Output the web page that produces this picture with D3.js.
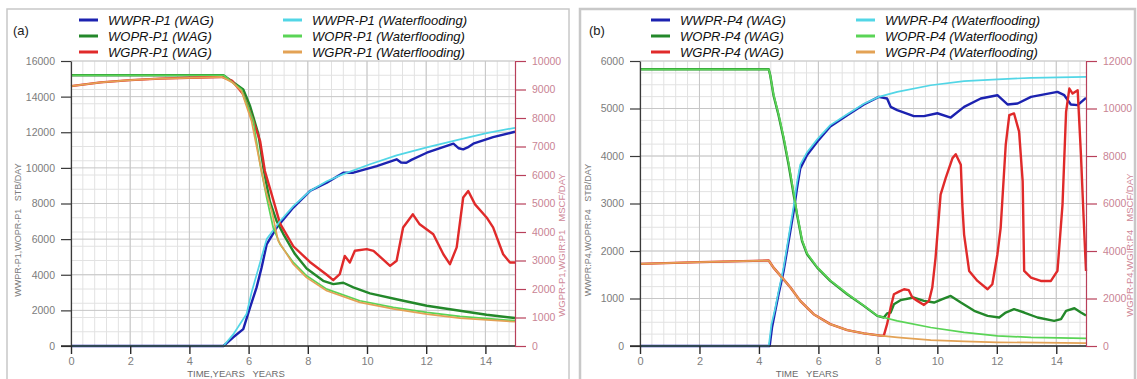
<!DOCTYPE html>
<html>
<head>
<meta charset="utf-8">
<script src="https://cdn.jsdelivr.net/npm/d3@7"></script>
<style>
body { margin: 0; background: #fff; }
text { font-family: "Liberation Sans", Arial, sans-serif; }
</style>
</head>
<body>
<svg width="1137" height="379"></svg>
<script>
// ---------- data (time in years, rates) ----------
const xTicks = [0, 2, 4, 6, 8, 10, 12, 14];
const leftTicksA = [0, 2000, 4000, 6000, 8000, 10000, 12000, 14000, 16000];
const rightTicksA = [0, 1000, 2000, 3000, 4000, 5000, 6000, 7000, 8000, 9000, 10000];
const leftTicksB = [0, 1000, 2000, 3000, 4000, 5000, 6000];
const rightTicksB = [0, 2000, 4000, 6000, 8000, 10000, 12000];

const legendA = ["WWPR-P1 (WAG)", "WOPR-P1 (WAG)", "WGPR-P1 (WAG)",
                 "WWPR-P1 (Waterflooding)", "WOPR-P1 (Waterflooding)", "WGPR-P1 (Waterflooding)"];
const legendB = ["WWPR-P4 (WAG)", "WOPR-P4 (WAG)", "WGPR-P4 (WAG)",
                 "WWPR-P4 (Waterflooding)", "WOPR-P4 (Waterflooding)", "WGPR-P4 (Waterflooding)"];

// panel (a), well P1
const wwprP1Wag = [[0,0],[5.15,0],[5.48,490],[5.82,950],[6.05,2170],[6.27,3290],[6.44,4410],[6.61,5700],[6.95,6650],[7.51,7770],[8.07,8700],[8.64,9170],[9.2,9730],[9.54,9730],[10.33,10100],[11.0,10480],[11.15,10300],[11.33,10290],[11.5,10450],[12.02,10850],[12.92,11360],[13.1,11100],[13.25,11040],[13.4,11150],[13.59,11360],[14.26,11730],[15,12030]];
const wwprP1Wf = [[0,0],[5.15,0],[5.48,650],[5.93,1800],[6.1,3000],[6.27,4000],[6.44,5000],[6.61,6000],[7.06,7000],[7.51,7850],[8.07,8700],[8.64,9250],[9.2,9650],[10.1,10200],[11.0,10700],[12.02,11150],[13.14,11600],[14.04,11950],[15,12250]];
const woprP1Wag = [[0,15200],[5.15,15200],[5.82,14400],[6.05,13470],[6.33,11900],[6.5,10000],[6.72,8100],[6.95,7000],[7.17,6300],[7.55,5200],[7.96,4350],[8.52,3660],[8.86,3475],[9.2,3550],[9.54,3290],[10.1,2950],[11.11,2580],[12.02,2260],[13.14,1980],[14.04,1755],[15,1570]];
const woprP1Wf = [[0,15200],[5.15,15200],[5.76,14400],[6.16,12630],[6.39,10200],[6.61,8330],[6.83,6650],[7.06,5716],[7.51,4690],[7.96,3940],[8.64,3195],[9.76,2540],[10.89,2170],[12.02,1890],[13.14,1665],[15,1420]];
const wgprP1Wag = [[0,9120],[1,9250],[2,9330],[3,9380],[4,9410],[5.1,9440],[5.45,9300],[5.82,8830],[6.16,7890],[6.39,7190],[6.55,6140],[6.78,5320],[7.06,4300],[7.51,3500],[8.07,2950],[8.64,2500],[8.86,2310],[9.08,2520],[9.25,3160],[9.42,2930],[9.59,3340],[9.99,3400],[10.22,3340],[10.78,2810],[11.0,2990],[11.22,4160],[11.55,4620],[11.78,4270],[12.24,3920],[12.58,3220],[12.8,2870],[13.03,3460],[13.25,5210],[13.42,5440],[13.65,4970],[14.04,4510],[14.26,4160],[14.6,3220],[14.83,2930],[15,2930]];
const wgprP1Wf = [[0,9120],[1,9250],[2,9330],[3,9380],[4,9410],[5.1,9440],[5.45,9250],[5.76,8940],[6.1,7890],[6.39,6370],[6.55,5560],[6.78,4740],[7.0,3690],[7.51,2870],[7.96,2400],[8.64,1940],[9.76,1530],[10.89,1300],[12.02,1120],[13.14,980],[15,850]];

// panel (b), well P4
const wwprP4Wag = [[0,0],[4.36,0],[4.44,390],[4.55,740],[4.66,1090],[4.83,1580],[5.0,2210],[5.17,2840],[5.28,3320],[5.39,3740],[5.62,4020],[5.96,4300],[6.4,4620],[6.97,4860],[7.53,5085],[8.03,5245],[8.31,5210],[8.43,5035],[8.65,4965],[9.21,4840],[9.55,4840],[10.0,4900],[10.45,4810],[10.9,5035],[11.46,5210],[12.02,5280],[12.36,5085],[12.7,5105],[13.15,5245],[14.04,5350],[14.27,5280],[14.49,5085],[14.72,5070],[15,5225]];
const wwprP4Wf = [[0,0],[4.33,0],[4.42,450],[4.55,800],[4.66,1150],[4.83,1650],[5.0,2300],[5.17,2950],[5.28,3450],[5.39,3820],[5.62,4080],[5.96,4350],[6.4,4650],[6.97,4880],[7.53,5100],[8.03,5245],[8.65,5350],[9.78,5490],[10.9,5575],[12.02,5615],[13.15,5645],[15,5665]];
const woprP4Wag = [[0,5825],[4.33,5825],[4.38,5700],[4.49,5280],[4.66,4860],[4.83,4370],[5.0,3810],[5.17,3180],[5.28,2770],[5.45,2210],[5.62,1930],[5.96,1650],[6.4,1370],[6.97,1090],[7.53,845],[7.98,635],[8.2,600],[8.31,685],[8.43,705],[8.54,880],[8.76,965],[9.21,1020],[9.55,950],[9.89,915],[10.17,985],[10.45,1055],[10.79,915],[11.24,740],[11.69,635],[12.08,600],[12.3,705],[12.58,775],[12.92,705],[13.37,600],[13.93,530],[14.16,565],[14.33,740],[14.61,795],[14.83,705],[15,640]];
const woprP4Wf = [[0,5825],[4.33,5825],[4.38,5700],[4.49,5300],[4.66,4880],[4.83,4400],[5.0,3850],[5.17,3220],[5.28,2800],[5.45,2230],[5.62,1950],[5.96,1660],[6.4,1380],[6.97,1100],[7.53,850],[7.98,640],[8.2,600],[8.65,530],[9.78,390],[10.9,285],[12.02,215],[13.15,180],[15,160]];
const wgprP4Wag = [[0,3460],[2,3530],[4.33,3600],[4.49,3300],[4.78,2880],[5.06,2460],[5.39,1900],[5.84,1340],[6.4,920],[6.97,670],[7.53,530],[8.09,435],[8.2,435],[8.31,920],[8.43,1620],[8.54,2180],[8.71,2290],[8.88,2390],[9.04,2350],[9.16,2040],[9.33,1900],[9.55,1730],[9.72,1900],[9.83,2460],[9.94,3715],[10.11,6370],[10.28,7070],[10.51,7910],[10.62,8075],[10.79,7630],[10.84,5950],[10.9,4690],[11.07,3160],[11.35,2740],[11.69,2390],[11.85,2600],[12.02,3855],[12.13,4970],[12.3,8465],[12.42,9720],[12.58,9790],[12.75,9025],[12.87,6930],[12.92,3160],[13.15,2880],[13.48,2740],[13.82,2740],[14.04,3160],[14.21,5950],[14.33,9860],[14.44,10840],[14.55,10630],[14.72,10770],[14.83,8050],[14.92,5390],[15,3160]];
const wgprP4Wf = [[0,3460],[2,3530],[4.33,3600],[4.49,3300],[4.78,2880],[5.06,2460],[5.39,1900],[5.84,1340],[6.4,920],[6.97,670],[7.53,530],[8.09,435],[8.65,365],[9.78,250],[10.9,195],[12.02,155],[15,125]];

// ---------- styles ----------
const colors = ["#1c22b0", "#23882a", "#e02a2a", "#52d6e6", "#5ad456", "#e3a255"];
const axisRed = "#b8405a";

const svg = d3.select("svg");

svg.append("rect").attr("width", 1137).attr("height", 379).attr("fill", "#fff");

function drawPanel(p) {
    const g = svg.append("g");

    //panel frame
    g.append("rect")
        .attr("x", p.frame[0]).attr("y", p.frame[1])
        .attr("width", p.frame[2]).attr("height", p.frame[3])
        .attr("fill", "none").attr("stroke", "#c8c8c8").attr("stroke-width", p.frameW);

    const x = d3.scaleLinear().domain([0, 15]).range(p.xr);
    const yL = d3.scaleLinear().domain([0, p.leftMax]).range([346, 61]);
    const yR = d3.scaleLinear().domain([0, p.rightMax]).range([346, 61]);

    //grid
    const grid = g.append("g");
    d3.range(0, 15.001, 0.4).forEach(t => {
        grid.append("line")
            .attr("x1", x(t)).attr("x2", x(t)).attr("y1", 61).attr("y2", 346)
            .attr("stroke", "#e2e2e2").attr("stroke-width", 1);
    });
    d3.range(0, p.leftMax + 1, p.hGrid).forEach(v => {
        grid.append("line")
            .attr("x1", p.xr[0]).attr("x2", p.xr[1]).attr("y1", yL(v)).attr("y2", yL(v))
            .attr("stroke", "#e2e2e2").attr("stroke-width", 1);
    });
    xTicks.forEach(t => {
        grid.append("line")
            .attr("x1", x(t)).attr("x2", x(t)).attr("y1", 61).attr("y2", 346)
            .attr("stroke", "#c6c6c6").attr("stroke-width", 1);
    });
    p.leftTicks.forEach(v => {
        grid.append("line")
            .attr("x1", p.xr[0]).attr("x2", p.xr[1]).attr("y1", yL(v)).attr("y2", yL(v))
            .attr("stroke", "#c6c6c6").attr("stroke-width", 1);
    });

    //series: WAG first (wider), waterflooding on top (thinner)
    const line = d3.line().x(d => x(d[0]));
    p.series.forEach((s, i) => {
        const y = s.right ? yR : yL;
        g.append("path")
            .datum(s.data)
            .attr("d", line.y(d => y(d[1])))
            .attr("fill", "none")
            .attr("stroke", colors[i])
            .attr("stroke-width", i < 3 ? 2.4 : 1.7)
            .attr("stroke-linejoin", "round");
    });

    const fmt = d3.format("d");

    //left axis
    const left = g.append("g").attr("transform", `translate(${p.xr[0]},0)`);
    left.call(d3.axisLeft(yL).tickValues(d3.range(0, p.leftMax + 1, p.leftMinor))
        .tickSize(5).tickSizeOuter(0).tickFormat(""));
    left.call(d3.axisLeft(yL).tickValues(p.leftTicks).tickFormat(fmt)
        .tickSize(10).tickSizeOuter(0).tickPadding(6));
    left.selectAll("line, path").attr("stroke", "#3a3a3a").attr("stroke-width", 1.2);
    left.selectAll("text").attr("fill", "#7c7c7c").style("font-size", "10.5px");

    //right axis
    const right = g.append("g").attr("transform", `translate(${p.xr[1]},0)`);
    right.call(d3.axisRight(yR).tickValues(d3.range(0, p.rightMax + 1, p.rightMinor))
        .tickSize(5).tickSizeOuter(0).tickFormat(""));
    right.call(d3.axisRight(yR).tickValues(p.rightTicks).tickFormat(fmt)
        .tickSize(11).tickSizeOuter(0).tickPadding(6));
    right.selectAll("line, path").attr("stroke", axisRed).attr("stroke-width", 1.2);
    right.selectAll("text").attr("fill", "#c98494").style("font-size", "10.5px");

    //bottom axis
    const bottom = g.append("g").attr("transform", "translate(0,346)");
    bottom.call(d3.axisBottom(x).tickValues(d3.range(0, 15.001, 0.4)).tickSize(4).tickSizeOuter(0).tickFormat(""));
    bottom.call(d3.axisBottom(x).tickValues(xTicks).tickFormat(fmt)
        .tickSize(8).tickSizeOuter(0).tickPadding(3));
    bottom.select(".domain").attr("d", `M${p.xr[0] - 10},0H${p.xr[1]}`);
    bottom.selectAll("line, path").attr("stroke", "#2a2a2a").attr("stroke-width", 1.4);
    bottom.selectAll("text").attr("fill", "#808080").style("font-size", "11px");

    //axis titles
    g.append("text")
        .attr("transform", `translate(${p.leftTitleX},230) rotate(-90)`)
        .attr("text-anchor", "middle").attr("fill", "#7c7c7c").style("font-size", "9px")
        .attr("xml:space", "preserve")
        .text(p.leftTitle);
    g.append("text")
        .attr("transform", `translate(${p.rightTitleX},245) rotate(-90)`)
        .attr("text-anchor", "middle").attr("fill", "#cf8898").style("font-size", "9.5px")
        .attr("xml:space", "preserve")
        .text(p.rightTitle);
    g.append("text")
        .attr("x", p.xTitleX).attr("y", 377)
        .attr("text-anchor", "middle").attr("fill", "#6a6a6a").style("font-size", "9.5px")
        .attr("xml:space", "preserve")
        .text(p.xTitle);

    //panel tag
    g.append("text")
        .attr("x", p.tagX).attr("y", 35)
        .attr("fill", "#222").style("font-size", "13px")
        .text(p.tag);

    //legend
    p.legend.forEach((name, i) => {
        const col = Math.floor(i / 3);
        const row = i % 3;
        const lx = p.legendX[col];
        const ly = 20 + row * 16;
        g.append("line")
            .attr("x1", lx).attr("x2", lx + 19).attr("y1", ly).attr("y2", ly)
            .attr("stroke", colors[i]).attr("stroke-width", 3);
        g.append("text")
            .attr("x", lx + 29).attr("y", ly + 5)
            .attr("fill", "#111").style("font-size", "13px").style("font-style", "italic")
            .text(name);
    });
}

drawPanel({
    frame: [7, 9, 562, 380], frameW: 1.5,
    xr: [71, 515],
    leftMax: 16000, leftTicks: leftTicksA, leftMinor: 400, hGrid: 800,
    rightMax: 10000, rightTicks: rightTicksA, rightMinor: 200,
    leftTitle: "WWPR-P1,WOPR-P1   STB/DAY", leftTitleX: 21,
    rightTitle: "WGPR-P1,WGIR:P1   MSCF/DAY", rightTitleX: 565,
    xTitle: "TIME,YEARS   YEARS", xTitleX: 236,
    tag: "(a)", tagX: 13,
    legend: legendA, legendX: [79, 283],
    series: [
        { data: wwprP1Wag }, { data: woprP1Wag }, { data: wgprP1Wag, right: true },
        { data: wwprP1Wf }, { data: woprP1Wf }, { data: wgprP1Wf, right: true }
    ]
});

drawPanel({
    frame: [580, 9, 555, 380], frameW: 2.5,
    xr: [640, 1086],
    leftMax: 6000, leftTicks: leftTicksB, leftMinor: 200, hGrid: 250,
    rightMax: 12000, rightTicks: rightTicksB, rightMinor: 400,
    leftTitle: "WWPR:P4,WOPR:P4   STB/DAY", leftTitleX: 591,
    rightTitle: "WGPR-P4,WGIR:P4   MSCF/DAY", rightTitleX: 1133,
    xTitle: "TIME   YEARS", xTitleX: 807,
    tag: "(b)", tagX: 589,
    legend: legendB, legendX: [651, 856],
    series: [
        { data: wwprP4Wag }, { data: woprP4Wag }, { data: wgprP4Wag, right: true },
        { data: wwprP4Wf }, { data: woprP4Wf }, { data: wgprP4Wf, right: true }
    ]
});
</script>
</body>
</html>
